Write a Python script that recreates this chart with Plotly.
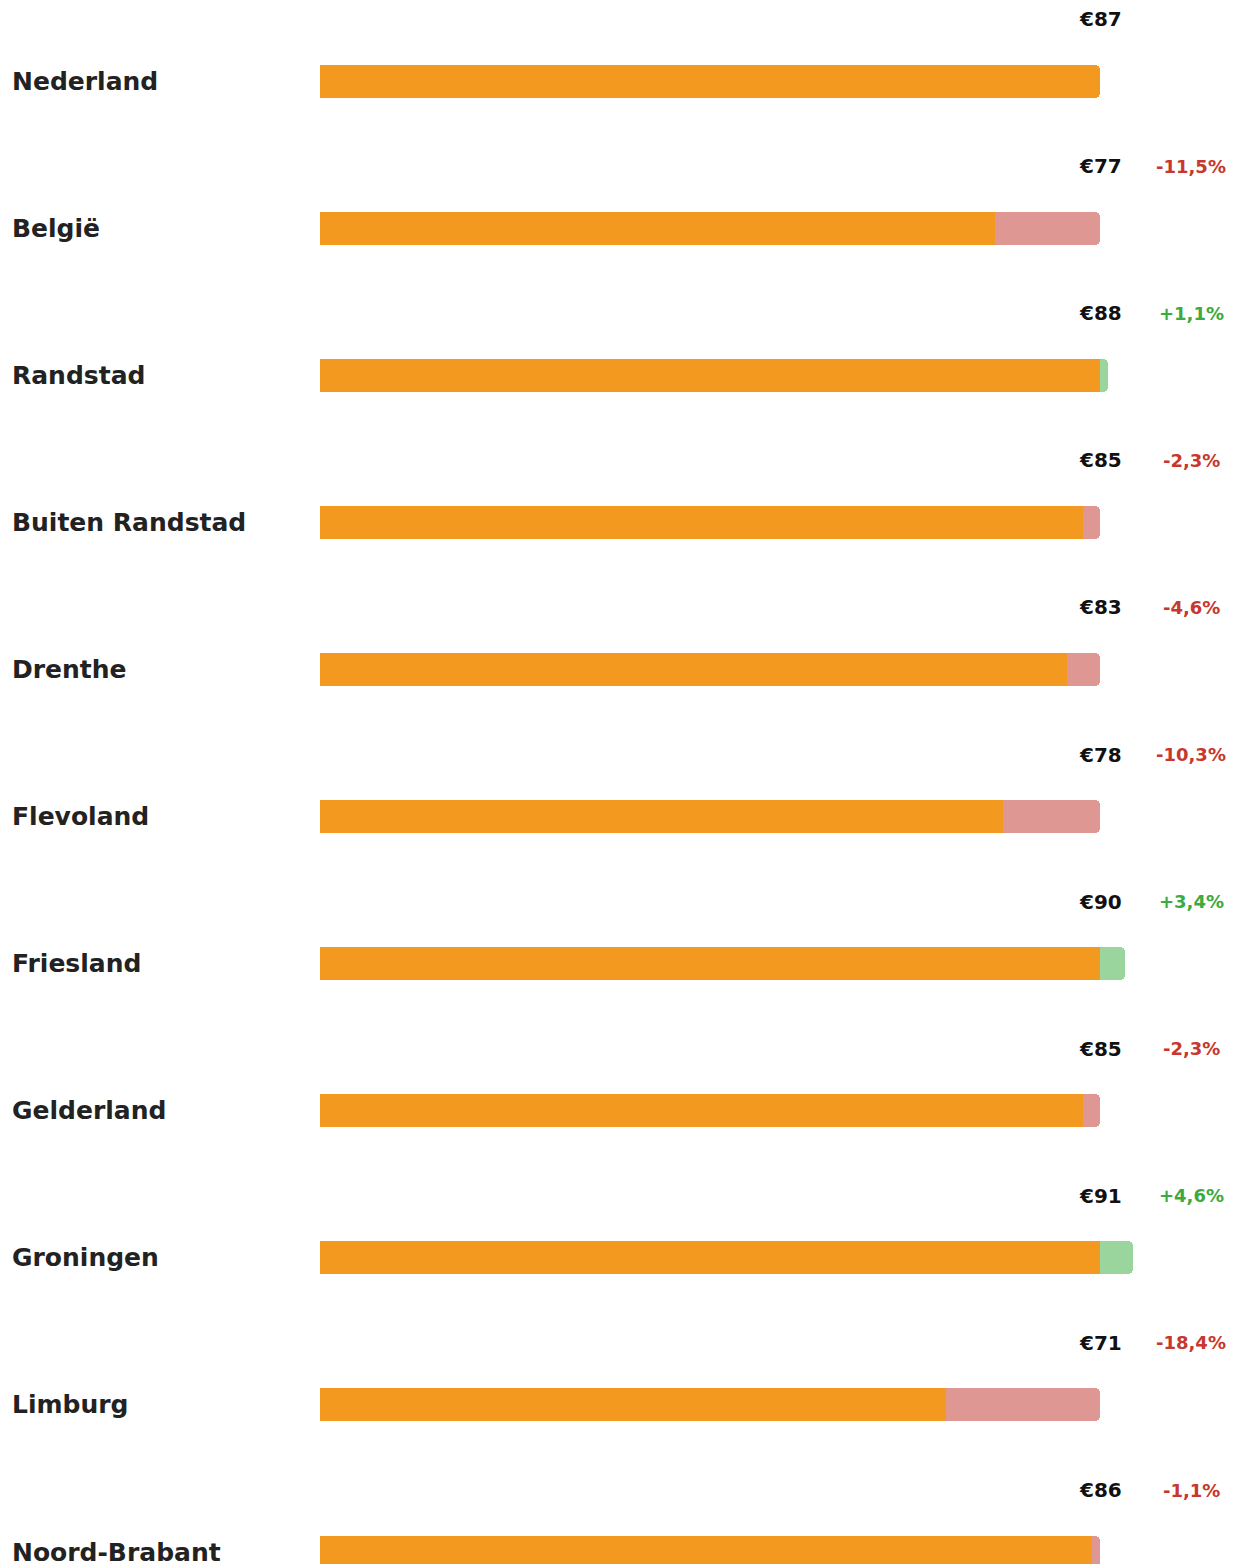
import plotly.graph_objects as go

regions = ["Nederland", "België", "Randstad", "Buiten Randstad", "Drenthe", "Flevoland",
           "Friesland", "Gelderland", "Groningen", "Limburg", "Noord-Brabant"]
price_labels = ["€87", "€77", "€88", "€85", "€83", "€78", "€90", "€85", "€91", "€71", "€86"]
change_labels = ["", "-11,5%", "+1,1%", "-2,3%", "-4,6%", "-10,3%", "+3,4%", "-2,3%", "+4,6%", "-18,4%", "-1,1%"]
bar_values = [87, 75.3, 87.9, 85.1, 83.3, 76.2, 89.8, 85.1, 90.7, 69.8, 86.1]
reference = 87

ORANGE = "#F4991F"
PINK = "#DE9792"
GREEN = "#9BD59E"
RED_TXT = "#C8372D"
GREEN_TXT = "#3DAA3D"

# page body has an 8px margin; compensate so the figure lines up with the window
OFF = 8
W, H = 1234 - OFF, 1564 - OFF
x0_px, ref_px = 320 - OFF, 1100 - OFF
ppu = (ref_px - x0_px) / reference
row0_px, pitch = 81 - OFF, 147.1

rows = list(range(len(regions)))
back_len = [max(v, reference) if i > 0 else 0 for i, v in enumerate(bar_values)]
back_col = [GREEN if v > reference else PINK for v in bar_values]
front_len = [min(v, reference) for v in bar_values]

bar_w = 33 / pitch

fig = go.Figure()
fig.add_trace(go.Bar(y=rows, x=back_len, orientation="h", marker=dict(color=back_col, line_width=0),
                     width=bar_w, hoverinfo="skip"))
fig.add_trace(go.Bar(y=rows, x=front_len, orientation="h", marker=dict(color=ORANGE, line_width=0),
                     width=bar_w, hoverinfo="skip"))

font_family = "DejaVu Sans"
annotations = []
for i, name in enumerate(regions):
    annotations.append(dict(x=(10 - OFF) / W, xref="paper", y=i, yref="y", text=f"<b>{name}</b>",
                            showarrow=False, xanchor="left", yanchor="middle",
                            font=dict(family=font_family, size=25, color="#222222")))
    annotations.append(dict(x=reference, xref="x", y=i - 62 / pitch, yref="y", text=f"<b>{price_labels[i]}</b>",
                            showarrow=False, xanchor="center", yanchor="middle",
                            font=dict(family=font_family, size=20, color="#111111")))
    if change_labels[i]:
        col = GREEN_TXT if change_labels[i].startswith("+") else RED_TXT
        annotations.append(dict(x=(1191 - OFF - x0_px) / ppu, xref="x", y=i - 62 / pitch, yref="y",
                                text=f"<b>{change_labels[i]}</b>", showarrow=False,
                                xanchor="center", yanchor="middle",
                                font=dict(family=font_family, size=18, color=col)))

fig.update_layout(
    width=W, height=H, margin=dict(l=0, r=0, t=0, b=0),
    barmode="overlay", barcornerradius=5, bargap=0,
    plot_bgcolor="white", paper_bgcolor="white", showlegend=False,
    xaxis=dict(range=[-x0_px / ppu, (W - x0_px) / ppu], visible=False, fixedrange=True),
    yaxis=dict(range=[(H - row0_px) / pitch, -row0_px / pitch], visible=False, fixedrange=True),
    annotations=annotations,
)

fig.write_html("out.html")
